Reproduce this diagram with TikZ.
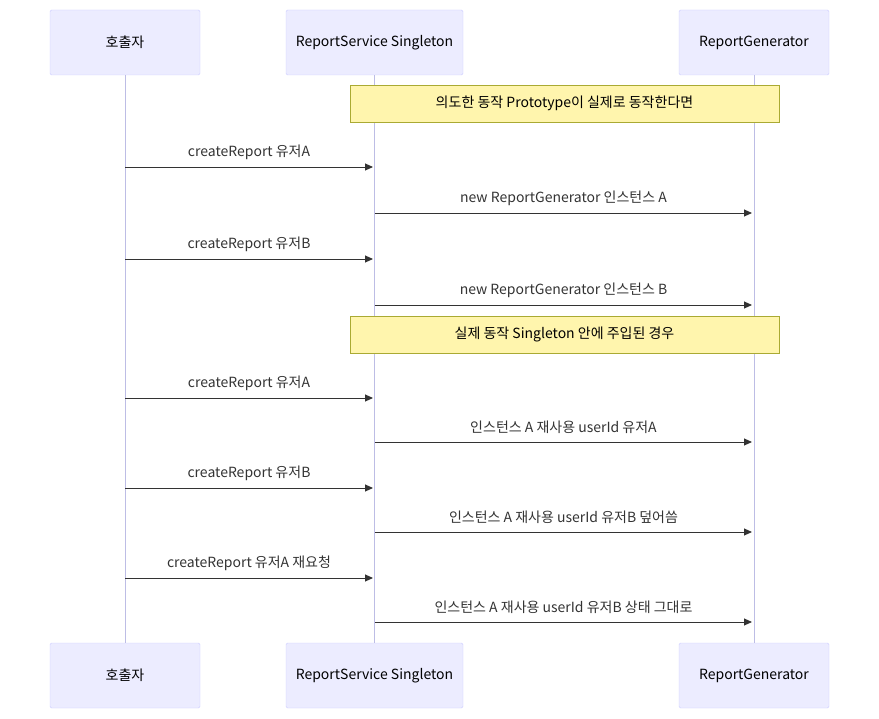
\documentclass[tikz,border=0pt]{standalone}
\usepackage{fontspec}
\setmainfont{Noto Sans CJK KR}
\usetikzlibrary{arrows.meta}
\definecolor{actfill}{HTML}{ECECFF}
\definecolor{actline}{HTML}{CCCCFF}
\definecolor{notefill}{HTML}{FFF5AD}
\definecolor{noteline}{HTML}{AAAA33}
\definecolor{ink}{HTML}{333333}
\tikzset{
  actor/.style={draw=actline, fill=actfill, rounded corners=1.5pt, text=black, font=\fontsize{14}{17}\selectfont},
  note/.style={draw=noteline, fill=notefill, text=black, font=\fontsize{14}{17}\selectfont},
  msg/.style={draw=ink, line width=0.9pt, -{Triangle[length=8pt,width=7pt]}},
  lbl/.style={text=ink, font=\fontsize{14}{17}\selectfont, inner sep=0pt}
}
\begin{document}
\begin{tikzpicture}[x=1pt,y=-1pt]
  \useasboundingbox (0,0) rectangle (879,719);

  % Actors
  \node[actor, minimum width=150, minimum height=65] (callT) at (125,42.5) {호출자};
  \node[actor, minimum width=177, minimum height=65] (svcT) at (374.5,42.5) {ReportService Singleton};
  \node[actor, minimum width=150, minimum height=65] (genT) at (754,42.5) {ReportGenerator};
  \node[actor, minimum width=150, minimum height=65] (callB) at (125,675.5) {호출자};
  \node[actor, minimum width=177, minimum height=65] (svcB) at (374.5,675.5) {ReportService Singleton};
  \node[actor, minimum width=150, minimum height=65] (genB) at (754,675.5) {ReportGenerator};

  % Lifelines
  \begin{scope}[on background layer/.style={}]
    \draw[actline!80!gray, line width=1pt] (callT) -- (callB);
    \draw[actline!80!gray, line width=1pt] (svcT) -- (svcB);
    \draw[actline!80!gray, line width=1pt] (genT) -- (genB);
  \end{scope}

  % Notes
  \node[note, minimum width=429, minimum height=37] (noteA) at (564.5,103.5) {의도한 동작 Prototype이 실제로 동작한다면};
  \node[note, minimum width=429, minimum height=37] (noteB) at (564.5,334.5) {실제 동작 Singleton 안에 주입된 경우};

  % Messages
  \foreach \y/\from/\to/\txt in {
      167/125/373/{createReport 유저A},
      213/375/752/{new ReportGenerator 인스턴스 A},
      259/125/373/{createReport 유저B},
      305/375/752/{new ReportGenerator 인스턴스 B},
      398/125/373/{createReport 유저A},
      442/375/752/{인스턴스 A 재사용 userId 유저A},
      488/125/373/{createReport 유저B},
      532/375/752/{인스턴스 A 재사용 userId 유저B 덮어씀},
      578/125/373/{createReport 유저A 재요청},
      622/375/752/{인스턴스 A 재사용 userId 유저B 상태 그대로}} {
    \coordinate (s) at (\from,\y);
    \coordinate (e) at (\to,\y);
    \draw[msg] (s) -- (e);
    \node[lbl] at ({(\from+\to)/2},\y-15) {\txt};
  }
\end{tikzpicture}
\end{document}
